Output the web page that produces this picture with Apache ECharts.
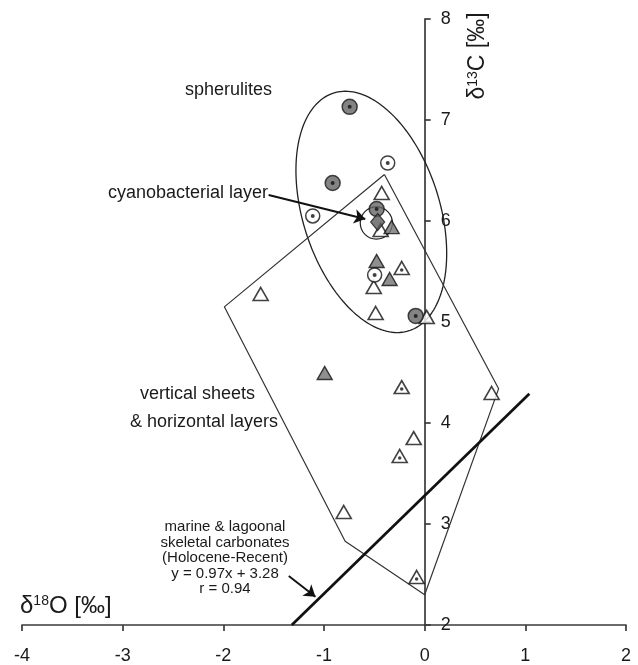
<!DOCTYPE html>
<html><head><meta charset="utf-8">
<script src="https://cdn.jsdelivr.net/npm/echarts@6/dist/echarts.min.js"></script>
<style>html,body{margin:0;padding:0;background:#fff}#c{width:638px;height:665px}</style>
</head><body><div id="c"></div>
<script>
// ---- data (x = δ18O ‰, y = δ13C ‰) ----
const xRange = [-4, 2];
const yRange = [2, 8];
const spheruliteFilled = [[-0.745, 7.13], [-0.914, 6.376], [-0.477, 6.119], [-0.089, 5.06]];
const openDotCircles = [[-0.367, 6.574], [-1.112, 6.05], [-0.497, 5.465]];
const grayDiamonds = [[-0.467, 5.99]];
const openTriangles = [[-0.427, 6.277], [-0.437, 5.911], [-0.506, 5.347], [-0.487, 5.089], [0.02, 5.05],
  [-1.629, 5.277], [-0.804, 3.119], [0.665, 4.297], [-0.109, 3.851]];
const grayTriangles = [[-0.328, 5.94], [-0.477, 5.604], [-0.348, 5.426], [-0.993, 4.495]];
const dotTriangles = [[-0.228, 5.535], [-0.228, 4.356], [-0.248, 3.673], [-0.08, 2.475]];
// outline of "vertical sheets & horizontal layers" field (closed)
const sheetPolygon = [[-0.40, 6.46], [0.735, 4.34], [0.0, 2.30], [-0.79, 2.83], [-1.99, 5.15], [-0.40, 6.46]];
// spherulite field ellipse: centre x, centre y, semi-major, semi-minor, tilt (deg from vertical)
const spheruliteEllipse = [[-0.53, 6.09, 1.235, 0.68, 17.7]];
// cyanobacterial layer circle: centre x, centre y, radius
const cyanoCircle = [[-0.48, 5.98, 0.16]];
// marine & lagoonal regression line end points
const regressionLine = [[-1.32, 2.0], [1.04, 4.29]];
// annotation arrows (start, end)
const cyanoArrow = [[-1.55, 6.257], [-0.59, 6.02]];
const marineArrow = [[-1.35, 2.485], [-1.085, 2.28]];

const FONT = 'Liberation Sans, Arial, sans-serif';
const GRID = {left: 22, right: 12, top: 19, bottom: 40};
const chartW = 638;
const plotW = chartW - GRID.left - GRID.right;
// y axis drawn at x = 0 (shift from the right edge of the plot)
const yAxisOffset = -plotW * (xRange[1] - 0) / (xRange[1] - xRange[0]);

const chart = echarts.init(document.getElementById('c'), null, {renderer: 'canvas'});

const dotSeries = (data, offset, size) => ({
  type: 'scatter', data, symbol: 'circle', symbolSize: size, symbolOffset: offset,
  itemStyle: {color: '#111', borderWidth: 0}, silent: true, z: 6
});

chart.setOption({
  animation: false,
  backgroundColor: '#fff',
  grid: Object.assign({containLabel: false, outerBoundsMode: 'none'}, GRID),
  xAxis: {
    type: 'value', min: xRange[0], max: xRange[1], interval: 1, position: 'bottom',
    axisLine: {onZero: false, lineStyle: {color: '#3a3a3a', width: 1.7}},
    axisTick: {show: true, length: 6, lineStyle: {color: '#3a3a3a', width: 1.7}},
    axisLabel: {margin: 22, fontSize: 18, color: '#1a1a1a', fontFamily: FONT},
    splitLine: {show: false}
  },
  yAxis: {
    type: 'value', min: yRange[0], max: yRange[1], interval: 1, position: 'right', offset: yAxisOffset,
    axisLine: {show: true, onZero: false, lineStyle: {color: '#3a3a3a', width: 1.7}},
    axisTick: {show: true, length: 6, lineStyle: {color: '#3a3a3a', width: 1.7}},
    axisLabel: {margin: 16, fontSize: 18, color: '#1a1a1a', fontFamily: FONT},
    splitLine: {show: false}
  },
  graphic: [
    {type: 'text', x: 478, y: 56, rotation: Math.PI / 2, style: {
      text: '{d|δ}{s|13}{d|C [‰]}', align: 'center', verticalAlign: 'middle',
      rich: {d: {fontSize: 23, fontFamily: FONT, fill: '#1a1a1a'}, s: {fontSize: 14, fontFamily: FONT, fill: '#1a1a1a', verticalAlign: 'top'}}
    }},
    {type: 'text', x: 20, y: 606, style: {
      text: '{d|δ}{s|18}{d|O [‰]}', align: 'left', verticalAlign: 'middle',
      rich: {d: {fontSize: 24, fontFamily: FONT, fill: '#1a1a1a'}, s: {fontSize: 14, fontFamily: FONT, fill: '#1a1a1a', verticalAlign: 'top'}}
    }},
    {type: 'text', x: 272, y: 90, style: {text: 'spherulites', align: 'right', verticalAlign: 'middle', fontSize: 18, fontFamily: FONT, fill: '#1a1a1a'}},
    {type: 'text', x: 268, y: 193, style: {text: 'cyanobacterial layer', align: 'right', verticalAlign: 'middle', fontSize: 18, fontFamily: FONT, fill: '#1a1a1a'}},
    {type: 'text', x: 140, y: 394, style: {text: 'vertical sheets', align: 'left', verticalAlign: 'middle', fontSize: 18, fontFamily: FONT, fill: '#1a1a1a'}},
    {type: 'text', x: 130, y: 422, style: {text: '& horizontal layers', align: 'left', verticalAlign: 'middle', fontSize: 18, fontFamily: FONT, fill: '#1a1a1a'}},
    {type: 'text', x: 225, y: 558, style: {
      text: 'marine & lagoonal\nskeletal carbonates\n(Holocene-Recent)\ny = 0.97x + 3.28\nr = 0.94',
      align: 'center', verticalAlign: 'middle', fontSize: 15, lineHeight: 15.6, fontFamily: FONT, fill: '#1a1a1a'
    }}
  ],
  series: [
    {type: 'line', data: sheetPolygon, showSymbol: false, symbol: 'none', silent: true,
      lineStyle: {color: '#333', width: 1.2}, z: 2},
    {type: 'line', data: regressionLine, showSymbol: false, symbol: 'none', silent: true,
      lineStyle: {color: '#111', width: 2.7}, z: 2},
    {type: 'custom', data: spheruliteEllipse, silent: true, z: 2,
      renderItem: function (params, api) {
        const c = api.coord([api.value(0), api.value(1)]);
        const s = api.size([1, 1]);
        const a = api.value(2), b = api.value(3), th = api.value(4) * Math.PI / 180;
        const pts = [];
        for (let i = 0; i < 180; i++) {
          const t = i / 180 * Math.PI * 2;
          const dx = a * Math.cos(t) * (-Math.sin(th)) + b * Math.sin(t) * Math.cos(th);
          const dy = a * Math.cos(t) * Math.cos(th) + b * Math.sin(t) * Math.sin(th);
          pts.push([c[0] + dx * s[0], c[1] - dy * s[1]]);
        }
        return {type: 'polygon', shape: {points: pts}, style: {fill: 'none', stroke: '#222', lineWidth: 1.3}};
      }},
    {type: 'custom', data: cyanoCircle, silent: true, z: 2,
      renderItem: function (params, api) {
        const c = api.coord([api.value(0), api.value(1)]);
        const s = api.size([1, 1]);
        return {type: 'circle', shape: {cx: c[0], cy: c[1], r: api.value(2) * s[0]}, style: {fill: 'none', stroke: '#222', lineWidth: 1.2}};
      }},
    {type: 'lines', coordinateSystem: 'cartesian2d', silent: true, z: 3,
      symbol: ['none', 'arrow'], symbolSize: 11,
      lineStyle: {color: '#111', width: 1.9, opacity: 1},
      data: [{coords: cyanoArrow}, {coords: marineArrow}]},
    {type: 'scatter', data: openTriangles, symbol: 'triangle', symbolSize: [15, 13], z: 4,
      itemStyle: {color: '#fff', borderColor: '#111', borderWidth: 1.6}},
    {type: 'scatter', data: dotTriangles, symbol: 'triangle', symbolSize: [15, 13], z: 4,
      itemStyle: {color: '#fff', borderColor: '#111', borderWidth: 1.6}},
    dotSeries(dotTriangles, [0, 2], 3.5),
    {type: 'scatter', data: grayTriangles, symbol: 'triangle', symbolSize: [15, 13], z: 4,
      itemStyle: {color: '#737373', borderColor: '#111', borderWidth: 1.4}},
    {type: 'scatter', data: openDotCircles, symbol: 'circle', symbolSize: 14, z: 4,
      itemStyle: {color: '#fff', borderColor: '#111', borderWidth: 1.5}},
    dotSeries(openDotCircles, [0, 0], 4),
    {type: 'scatter', data: spheruliteFilled, symbol: 'circle', symbolSize: 15, z: 5,
      itemStyle: {color: '#656565', borderColor: '#1a1a1a', borderWidth: 1.5}},
    dotSeries(spheruliteFilled, [0, 0], 4),
    {type: 'scatter', data: grayDiamonds, symbol: 'diamond', symbolSize: [14, 17], z: 5,
      itemStyle: {color: '#5c5c5c', borderColor: '#1a1a1a', borderWidth: 1.2}}
  ]
});
</script></body></html>
